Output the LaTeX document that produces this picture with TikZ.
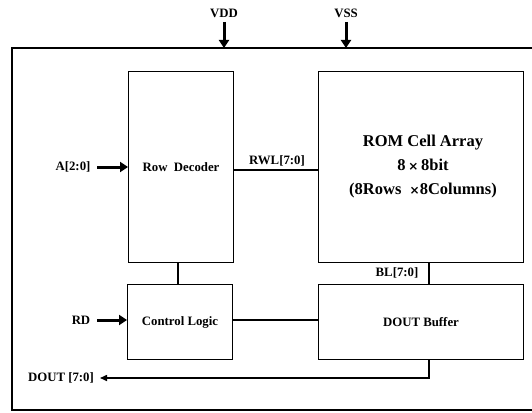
\documentclass[tikz,border=0pt]{standalone}
\usepackage{fontspec}
\setmainfont{Liberation Serif}
\newfontfamily\symfont{DejaVu Sans}
\usetikzlibrary{arrows.meta}
\begin{document}
\begin{tikzpicture}[x=1pt,y=-1pt,
  blk/.style={draw,line width=1pt,inner sep=0pt,anchor=north west},
  lbl/.style={font=\bfseries\fontsize{12.8}{14}\selectfont,inner sep=0pt},
  big/.style={font=\bfseries\fontsize{16.5}{24}\selectfont,align=center,inner sep=0pt},
  wire/.style={line width=1.3pt},
  pin/.style={line width=3pt,-{Triangle[length=8pt,width=10pt]}},
  outarrow/.style={line width=1.5pt,-{Triangle[length=7pt,width=6pt]}}]
\useasboundingbox (0,0) rectangle (532,412);
% outer frame
\draw[line width=2pt] (540,48) -- (12,48) -- (12,410) -- (540,410);
% blocks
\node[blk,minimum width=105pt,minimum height=191pt] (rd) at (128,71) {};
\node[lbl] at (rd.center |- 0,167) {Row\ \ Decoder};
\node[blk,minimum width=205pt,minimum height=191pt] (rom) at (318,71) {};
\node[big] at (423,167) {ROM Cell Array\\8\,{\symfont\bfseries\fontsize{12}{12}\selectfont×}\,8bit\\(8Rows\ \ {\symfont\bfseries\fontsize{12}{12}\selectfont×}8Columns)};
\node[blk,minimum width=105pt,minimum height=75pt] (cl) at (127,284) {};
\node[lbl] at (cl.center) {Control Logic};
\node[blk,minimum width=205pt,minimum height=75pt] (db) at (318,284) {};
\node[lbl] at (db.center) {DOUT Buffer};
% supply pins
\node[lbl] (vdd) at (224,13) {VDD};
\node[lbl] (vss) at (346,13) {VSS};
\coordinate (vddt) at (224,48);
\coordinate (vsst) at (346,48);
\draw[pin] (224,22) -- (vddt);
\draw[pin] (346,22) -- (vsst);
% inputs
\node[lbl] (a) at (73,167) {A[2:0]};
\node[lbl] (rdin) at (81,320) {RD};
\draw[pin] (97,167) -- (rd.west |- a);
\draw[pin] (97,320) -- (cl.west |- rdin);
% internal wires
\draw[wire] (rd.east |- 0,170) -- (rom.west |- 0,170);
\node[lbl] (rwl) at (277,161) {RWL[7:0]};
\draw[wire] (rd.south -| 178,0) -- (cl.north -| 178,0);
\draw[wire] (cl.east |- 0,320) -- (db.west |- 0,320);
\draw[wire] (rom.south -| 429,0) -- (db.north -| 429,0);
\node[lbl] (bl) at (397,273) {BL[7:0]};
% output
\node[lbl] (dout) at (61,378) {DOUT [7:0]};
\coordinate (dc) at (429,378);
\draw[outarrow] (db.south -| dc) -- (dc) -- (100,378);
\end{tikzpicture}
\end{document}
